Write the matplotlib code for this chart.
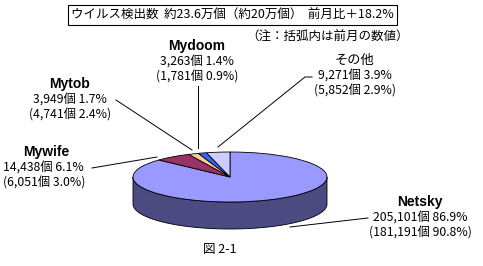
import matplotlib
matplotlib.use("Agg")
import matplotlib.pyplot as plt
from matplotlib.patches import Wedge, Polygon
from matplotlib.transforms import Affine2D
import numpy as np

plt.rcParams['font.family'] = ['Noto Sans CJK JP', 'DejaVu Sans']

# データ (時計回り, 12時の位置から)
names = ["Netsky", "Mywife", "Mytob", "Mydoom", "その他"]
counts = [205101, 14438, 3949, 3263, 9271]
shares = [86.9, 6.1, 1.7, 1.4, 3.9]
prev_counts = [181191, 6051, 4741, 1781, 5852]
prev_shares = [90.8, 3.0, 2.4, 0.9, 2.9]
colors = ["#9999FF", "#993366", "#FFCC99", "#3366FF", "#CCCCFF"]
side_color = "#4B4B82"

title = "ウイルス検出数  約23.6万個（約20万個）  前月比＋18.2%"
note = "（注：括弧内は前月の数値）"
caption = "図 2-1"

W, H = 483, 266
fig = plt.figure(figsize=(W / 100, H / 100), dpi=100)
ax = fig.add_axes([0, 0, 1, 1])
ax.set_xlim(0, W)
ax.set_ylim(H, 0)
ax.axis("off")

# 楕円の中心・半径・厚み
cx, cy, rx, ry, depth = 230, 177, 97, 25, 27
ell = Affine2D().scale(rx, -ry).translate(cx, cy) + ax.transData

# 角度の計算
total = sum(shares)
bounds = [90.0]
for s in shares:
    bounds.append(bounds[-1] - s / total * 360.0)

# 側面 (手前側 180°〜360° は Netsky)
t = np.radians(np.linspace(180, 360, 120))
xs = cx + rx * np.cos(t)
ys = cy - ry * np.sin(t)
side = np.vstack([np.column_stack([xs, ys]),
                  np.column_stack([xs[::-1], ys[::-1] + depth])])
ax.add_patch(Polygon(side, closed=True, facecolor=side_color,
                     edgecolor="black", linewidth=0.6, zorder=1))

# 上面
for i, c in enumerate(colors):
    w = Wedge((0, 0), 1.0, bounds[i + 1], bounds[i], facecolor=c,
              edgecolor="black", linewidth=0.6, transform=ell, zorder=2)
    ax.add_patch(w)

# タイトル枠
ax.text(232, 15, title, ha="center", va="center", fontsize=9,
        bbox=dict(boxstyle="square,pad=0.25", facecolor="white",
                  edgecolor="black", linewidth=0.8))
ax.text(328, 37, note, ha="center", va="center", fontsize=9)

# ラベル
label_pos = {
    "Netsky": (420, 202),
    "Mywife": (46, 152),
    "Mytob": (70, 84),
    "Mydoom": (197, 46),
    "その他": (355, 60),
}
for i, n in enumerate(names):
    x, y = label_pos[n]
    if n == "その他":
        ax.text(x, y, n, ha="center", va="center", fontsize=9.5)
    else:
        ax.text(x, y, n, ha="center", va="center", fontsize=10,
                fontweight="bold", family=["Liberation Sans", "DejaVu Sans"])
    if n == "Mywife":
        tx, ha = 3, "left"
    else:
        tx, ha = x, "center"
    ax.text(tx, y + 16, f"{counts[i]:,}個 {shares[i]}%", ha=ha,
            va="center", fontsize=8.8)
    ax.text(tx, y + 31, f"({prev_counts[i]:,}個 {prev_shares[i]}%)",
            ha=ha, va="center", fontsize=8.8)

# 引出線
leaders = [
    [(368, 218), (290, 227)],
    [(92, 168), (157, 157)],
    [(116, 100), (192, 150)],
    [(198, 86), (198, 148)],
    [(312, 77), (305, 77), (218, 147)],
]
for pts in leaders:
    px, py = zip(*pts)
    ax.plot(px, py, color="black", linewidth=0.7, zorder=3)

ax.text(220, 249, caption, ha="center", va="center", fontsize=9)

fig.savefig("out.png", dpi=100, facecolor="white")
